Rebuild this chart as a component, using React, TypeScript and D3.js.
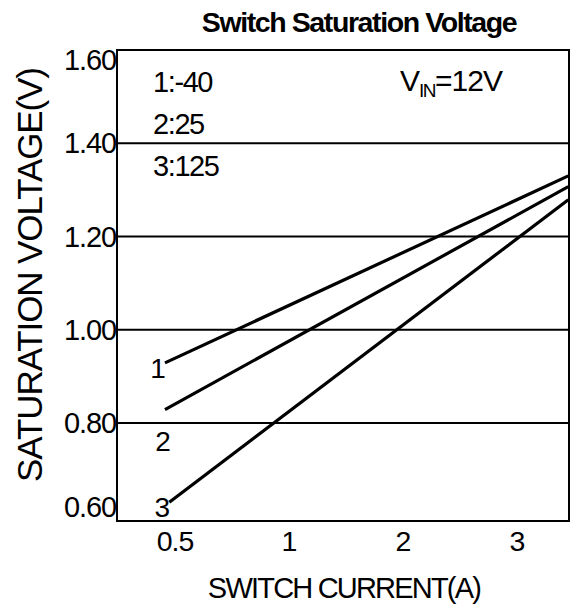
import React from "react";
import * as d3 from "d3";

const title = "Switch Saturation Voltage";
const xLabel = "SWITCH CURRENT(A)";
const yLabel = "SATURATION VOLTAGE(V)";
const xTickValues = [0.5, 1, 2, 3];
const xTickLabels = ["0.5", "1", "2", "3"];
const xTickSlots = [0, 1, 2, 3]; // printed axis places the ticks at equal spacing
const yTickValues = [1.6, 1.4, 1.2, 1.0, 0.8, 0.6];
const yTickLabels = ["1.60", "1.40", "1.20", "1.00", "0.80", "0.60"];
const legendLines = ["1:-40", "2:25", "3:125"];
const seriesNames = ["1", "2", "3"];
const series1 = [{ x: 0.456, y: 0.929 }, { x: 3.45, y: 1.33 }];
const series2 = [{ x: 0.456, y: 0.829 }, { x: 3.45, y: 1.307 }];
const series3 = [{ x: 0.475, y: 0.63 }, { x: 3.45, y: 1.279 }];

const W = 575, H = 607;
const L = 117, R = 569, T = 50, B = 521;

export default function App() {
  const slot = d3.scaleLinear().domain([0, 3]).range([175, 517]);
  const x = d3
    .scaleLinear()
    .domain(xTickValues)
    .range(xTickSlots.map((p) => slot(p)));
  const y = d3.scaleLinear().domain([0.59, 1.6]).range([B, T]);
  const line = d3
    .line<{ x: number; y: number }>()
    .x((d) => x(d.x))
    .y((d) => y(d.y));
  const allSeries = [series1, series2, series3];
  const font = "'Liberation Sans', Arial, sans-serif";
  const labelOffsets = [10, 0, 0, 0, 0, -9];
  const seriesLabelPos = [
    { dx: -7, dy: 15 },
    { dx: -2, dy: 41 },
    { dx: -7, dy: 15 },
  ];
  return (
    <svg width={W} height={H} style={{ display: "block", position: "absolute", left: 0, top: 0 }}>
      <rect width={W} height={H} fill="#fff" />
      <text x={359} y={32} textAnchor="middle" fontFamily={font} fontWeight="bold" fontSize={28.5} letterSpacing={-1.4} fill="#000">
        {title}
      </text>
      {yTickValues.slice(1, 5).map((v) => (
        <line key={v} x1={L} x2={R} y1={y(v)} y2={y(v)} stroke="#000" strokeWidth={2} />
      ))}
      <rect x={L} y={T} width={R - L} height={B - T} fill="none" stroke="#000" strokeWidth={2} />
      {yTickValues.map((v, i) => (
        <text key={v} x={116} y={y(v) + 10 + labelOffsets[i]} textAnchor="end" fontFamily={font} fontSize={29} letterSpacing={-1.1} fill="#000">
          {yTickLabels[i]}
        </text>
      ))}
      {xTickValues.map((v, i) => (
        <text key={v} x={x(v)} y={551} textAnchor="middle" fontFamily={font} fontSize={28.5} letterSpacing={-1} fill="#000">
          {xTickLabels[i]}
        </text>
      ))}
      <text x={344} y={598} textAnchor="middle" fontFamily={font} fontSize={29} letterSpacing={-1.8} fill="#000">
        {xLabel}
      </text>
      <text transform="translate(42,275) rotate(-90)" textAnchor="middle" fontFamily={font} fontSize={35} letterSpacing={-1.1} fill="#000">
        {yLabel}
      </text>
      {legendLines.map((t, i) => (
        <text key={t} x={153} y={92 + i * 42} fontFamily={font} fontSize={29} letterSpacing={-1.4} fill="#000">
          {t}
        </text>
      ))}
      <text x={400} y={91} fontFamily={font} fontSize={30} letterSpacing={-1} fill="#000">
        V
        <tspan fontSize={19} dy={6} letterSpacing={-1.5}>IN</tspan>
        <tspan dy={-6}>=12V</tspan>
      </text>
      {allSeries.map((s, i) => (
        <path key={i} d={line(s) || ""} fill="none" stroke="#000" strokeWidth={3.2} />
      ))}
      {allSeries.map((s, i) => (
        <text key={"l" + i} x={x(s[0].x) + seriesLabelPos[i].dx} y={y(s[0].y) + seriesLabelPos[i].dy} textAnchor="middle" fontFamily={font} fontSize={28} fill="#000">
          {seriesNames[i]}
        </text>
      ))}
    </svg>
  );
}
